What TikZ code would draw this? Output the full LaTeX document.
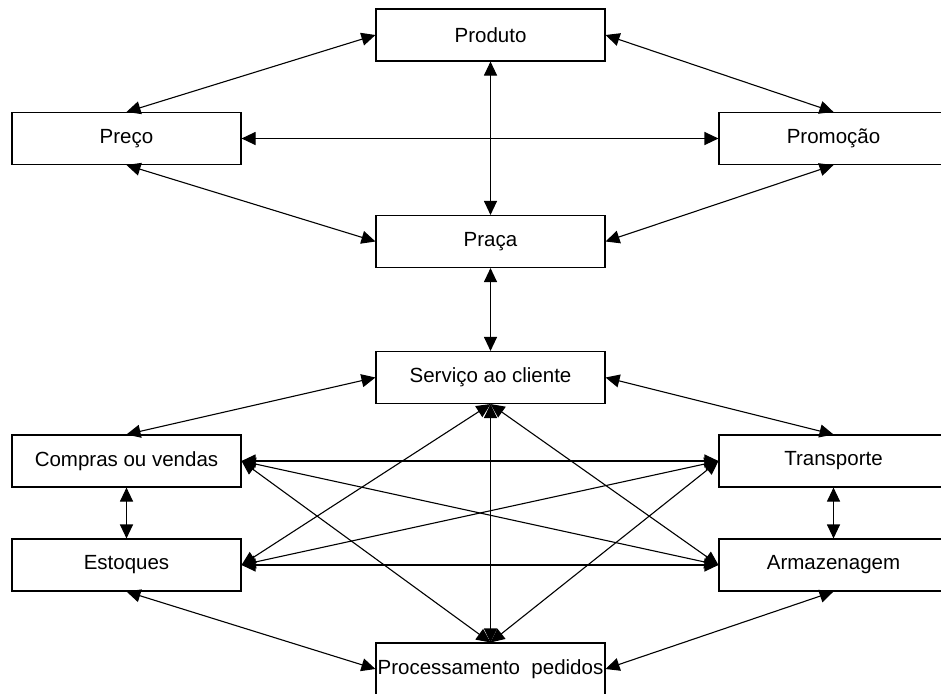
\documentclass[tikz,border=0pt]{standalone}
\usepackage{fontspec}
\setmainfont{Liberation Sans}
\usepackage{tikz}
\usetikzlibrary{arrows.meta, positioning}
\tikzset{
  BOX/.style={% Style for the boxes
      rectangle, line width=1.1pt,
      align=center,
      minimum width=229pt,
      minimum height=52pt,
      inner xsep=0.5pt,
      font=\fontsize{20.5}{24}\selectfont,
      fill=white,
      draw=black,
  },
  LNK/.style={% Style for the two-headed connectors
      line width=1.1pt,
      {Triangle[length=14pt,width=13pt]}-{Triangle[length=14pt,width=13pt]},
  }
}

\begin{document}
\begin{tikzpicture}[x=1pt,y=-1pt]
    \useasboundingbox (0,0) rectangle (941,693);
    % upper group: the four P
    \node[BOX] (Produto) at (490.5,35) {Produto};
    \node[BOX] (Preco) at (126.5,138.5) {Preço};
    \node[BOX] (Promocao) at (833.5,138.5) {Promoção};
    \node[BOX] (Praca) at (490.5,241.5) {Praça};
    % lower group: logistics
    \node[BOX] (Servico) at (490.5,377.5) {Serviço ao cliente};
    \node[BOX] (Compras) at (126.5,461) {Compras ou vendas};
    \node[BOX] (Transporte) at (833.5,461) {Transporte};
    \node[BOX] (Estoques) at (126.5,565) {Estoques};
    \node[BOX] (Armazenagem) at (833.5,565) {Armazenagem};
    \node[BOX] (Pedidos) at (490.5,669) {Processamento\ \ pedidos};
    % connectors, anchor to anchor
    \foreach \a/\b in {
      Produto.west/Preco.north,
      Produto.east/Promocao.north,
      Preco.east/Promocao.west,
      Produto.south/Praca.north,
      Preco.south/Praca.west,
      Promocao.south/Praca.east,
      Praca.south/Servico.north,
      Servico.west/Compras.north,
      Servico.east/Transporte.north,
      Servico.south/Pedidos.north,
      Servico.south/Estoques.east,
      Servico.south/Armazenagem.west,
      Pedidos.north/Compras.east,
      Pedidos.north/Transporte.west,
      Compras.east/Transporte.west,
      Compras.east/Armazenagem.west,
      Estoques.east/Transporte.west,
      Estoques.east/Armazenagem.west,
      Compras.south/Estoques.north,
      Transporte.south/Armazenagem.north,
      Estoques.south/Pedidos.west,
      Armazenagem.south/Pedidos.east%
    } {
      \draw[LNK] (\a) -- (\b);
    }
\end{tikzpicture}
\end{document}
